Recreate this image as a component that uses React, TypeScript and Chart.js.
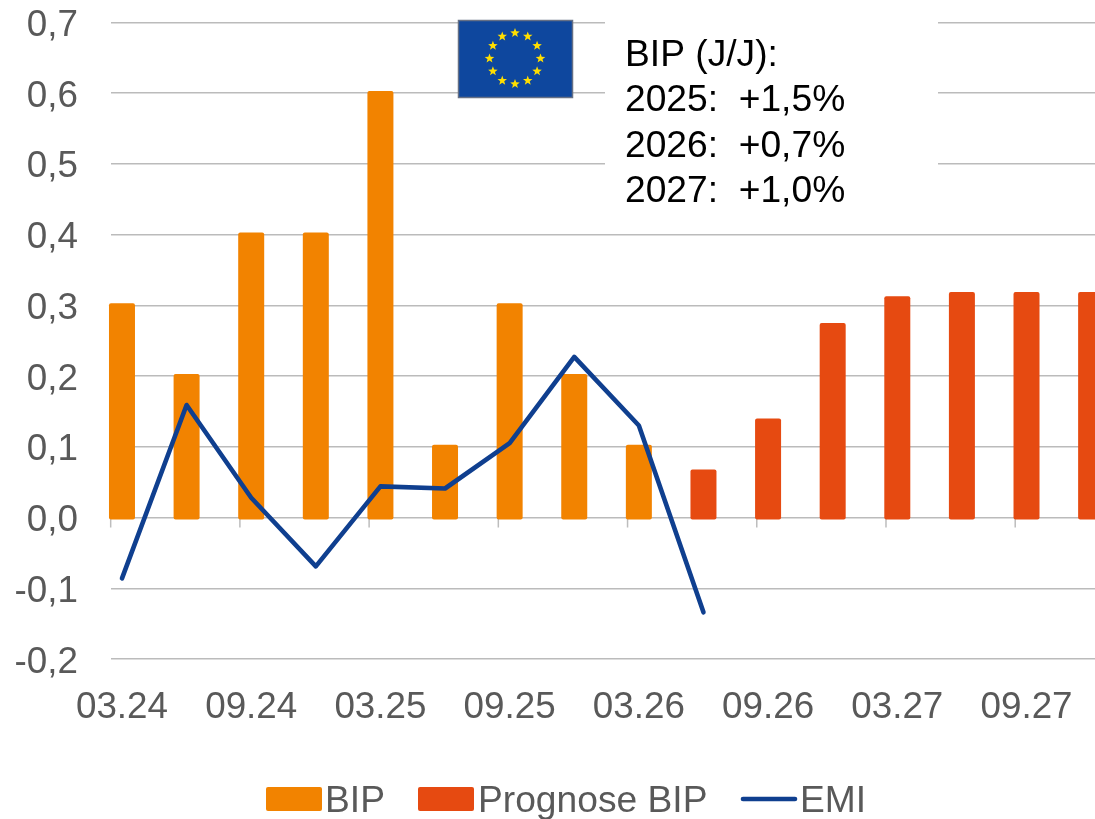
import React, { useEffect, useRef } from "react";
import { Chart, registerables } from "chart.js";

Chart.register(...registerables);

const tickLabels = ["03.24", "09.24", "03.25", "09.25", "03.26", "09.26", "03.27", "09.27"];
const bipValues = [0.3, 0.2, 0.4, 0.4, 0.6, 0.1, 0.3, 0.2, 0.1];
const forecastValues = [0.065, 0.137, 0.272, 0.31, 0.316, 0.316, 0.316];
const forecastStart = 9;
const emiValues = [-0.086, 0.159, 0.028, -0.069, 0.044, 0.041, 0.105, 0.227, 0.13, -0.134];
const noteLines = ["BIP (J/J):", "2025:  +1,5%", "2026:  +0,7%", "2027:  +1,0%"];
const legendNames = ["BIP", "Prognose BIP", "EMI"];

const ORANGE = "#F28300";
const RED = "#E64A11";
const BLUE = "#0F3F8F";
const GREY = "#595959";
const FONT = '"Liberation Sans", Arial, sans-serif';
const FONT_SIZE = 36.8;
const TEXT_SIZE = 37.2;

function star(ctx: CanvasRenderingContext2D, cx: number, cy: number, r: number) {
  ctx.beginPath();
  for (let i = 0; i < 10; i++) {
    const a = -Math.PI / 2 + (i * Math.PI) / 5;
    const rr = i % 2 === 0 ? r : r * 0.42;
    const x = cx + rr * Math.cos(a);
    const y = cy + rr * Math.sin(a);
    if (i === 0) ctx.moveTo(x, y);
    else ctx.lineTo(x, y);
  }
  ctx.closePath();
  ctx.fill();
}

const extrasPlugin = {
  id: "extras",
  beforeDatasetsDraw(chart: any) {
    const { ctx, scales } = chart;
    const zero = scales.y.getPixelForValue(0);
    ctx.save();
    ctx.strokeStyle = "#BDBDBD";
    ctx.lineWidth = 1.5;
    scales.x.ticks.forEach((t: any) => {
      const px = scales.x.getPixelForValue(t.value - 0.175);
      ctx.beginPath();
      ctx.moveTo(px, zero);
      ctx.lineTo(px, zero + 10);
      ctx.stroke();
    });
    ctx.restore();
  },
  afterDraw(chart: any) {
    const { ctx } = chart;
    ctx.save();
    // white note panel hides the gridlines behind the text
    ctx.fillStyle = "#FFFFFF";
    ctx.fillRect(605, 0, 333, 200);
    ctx.fillStyle = "#000000";
    ctx.font = `${TEXT_SIZE}px ${FONT}`;
    ctx.textAlign = "left";
    ctx.textBaseline = "alphabetic";
    noteLines.forEach((line, i) => ctx.fillText(line, 625, 66 + i * 45.3));

    // EU flag
    ctx.fillStyle = "#0E479E";
    ctx.fillRect(458.5, 20.5, 114, 77);
    ctx.strokeStyle = "#667085";
    ctx.lineWidth = 1.5;
    ctx.strokeRect(458.5, 20.5, 114, 77);
    ctx.fillStyle = "#FFDE00";
    for (let i = 0; i < 12; i++) {
      const a = (i * Math.PI) / 6;
      star(ctx, 515 + 25.5 * Math.sin(a), 58.5 - 25.5 * Math.cos(a), 5);
    }

    // legend
    ctx.font = `${TEXT_SIZE}px ${FONT}`;
    ctx.textBaseline = "alphabetic";
    ctx.fillStyle = ORANGE;
    ctx.beginPath();
    ctx.roundRect(266, 787, 56, 24, 2);
    ctx.fill();
    ctx.fillStyle = RED;
    ctx.beginPath();
    ctx.roundRect(418, 787, 56, 24, 2);
    ctx.fill();
    ctx.strokeStyle = BLUE;
    ctx.lineWidth = 4.6;
    ctx.lineCap = "round";
    ctx.beginPath();
    ctx.moveTo(743, 799);
    ctx.lineTo(795, 799);
    ctx.stroke();
    ctx.fillStyle = GREY;
    ctx.fillText(legendNames[0], 325, 812);
    ctx.fillText(legendNames[1], 478, 812);
    ctx.fillText(legendNames[2], 800, 812);
    ctx.restore();
  },
};

export default function App() {
  const ref = useRef<HTMLCanvasElement>(null);
  useEffect(() => {
    const barBase = {
      type: "bar" as const,
      barThickness: 22,
      inflateAmount: 2,
      borderWidth: 0,
      borderRadius: 2,
      borderSkipped: false,
      grouped: false,
      clip: false as any,
      order: 1,
    };
    const chart = new Chart(ref.current!, {
      type: "bar",
      data: {
        datasets: [
          {
            ...barBase,
            label: legendNames[0],
            data: bipValues.map((y, i) => ({ x: i, y })),
            backgroundColor: ORANGE,
          },
          {
            ...barBase,
            label: legendNames[1],
            data: forecastValues.map((y, i) => ({ x: i + forecastStart, y })),
            backgroundColor: RED,
          },
          {
            type: "line" as const,
            label: legendNames[2],
            data: emiValues.map((y, i) => ({ x: i, y })),
            borderColor: BLUE,
            backgroundColor: BLUE,
            borderWidth: 4.6,
            borderCapStyle: "round",
            borderJoinStyle: "round",
            pointRadius: 0,
            tension: 0,
            clip: false as any,
            order: 0,
          },
        ] as any,
      },
      options: {
        animation: false,
        responsive: false,
        layout: { padding: { top: 22.3, left: 0, right: 0, bottom: 0 } },
        plugins: { legend: { display: false }, tooltip: { enabled: false }, title: { display: false } },
        scales: {
          x: {
            type: "linear",
            offset: false,
            min: -0.17,
            max: 15.06,
            grid: { display: false },
            border: { display: false },
            afterBuildTicks: (s: any) => {
              s.ticks = tickLabels.map((_, i) => ({ value: i * 2 }));
            },
            afterFit: (s: any) => {
              s.height = 160;
              s.paddingLeft = 0;
              s.paddingRight = 0;
            },
            ticks: {
              autoSkip: false,
              maxRotation: 0,
              minRotation: 0,
              padding: 19,
              color: GREY,
              font: { family: FONT, size: FONT_SIZE },
              callback: (v: any) => tickLabels[Number(v) / 2],
            },
          },
          y: {
            min: -0.2,
            max: 0.7,
            grid: { color: "#BBBBBB", lineWidth: 1.5, drawTicks: false },
            border: { display: false },
            afterFit: (s: any) => {
              s.width = 111;
              s.paddingTop = 0;
              s.paddingBottom = 0;
            },
            ticks: {
              stepSize: 0.1,
              padding: 33,
              labelOffset: 3.5,
              color: GREY,
              font: { family: FONT, size: FONT_SIZE },
              callback: (v: any) => {
                const n = Math.round(Number(v) * 10) / 10;
                return (n === 0 ? 0 : n).toFixed(1).replace(".", ",");
              },
            },
          },
        },
      },
      plugins: [extrasPlugin],
    } as any);
    return () => chart.destroy();
  }, []);
  return (
    <canvas
      ref={ref}
      width={1095}
      height={819}
      style={{ position: "absolute", left: 0, top: 0, display: "block", width: 1095, height: 819 }}
    />
  );
}
